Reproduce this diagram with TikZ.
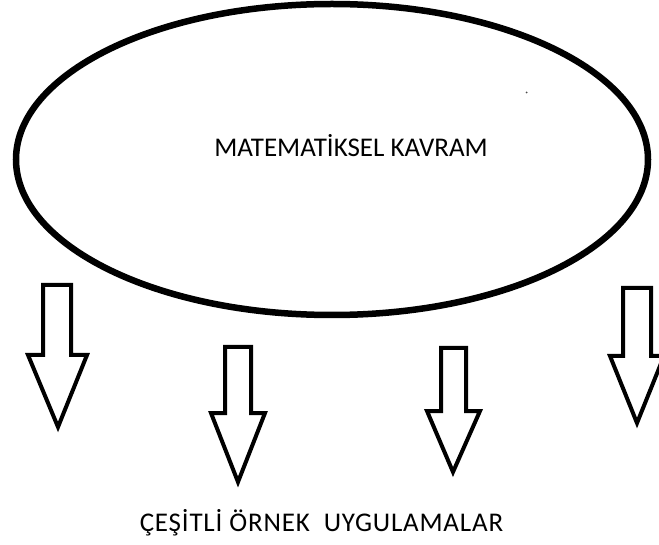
\documentclass[tikz,border=0pt]{standalone}
\usepackage{fontspec}
\setmainfont{Carlito}
\begin{document}
\begin{tikzpicture}[x=1pt,y=-1pt,
  outline/.style={draw=black,line width=6.5pt},
  blockarrow/.style={draw=black,line width=4pt,line join=miter,fill=white},
  label/.style={font=\fontsize{27}{31}\selectfont,text=black,inner sep=0pt}]
\useasboundingbox (0,0) rectangle (659,545);
\fill[white] (0,0) rectangle (659,545);
% concept ellipse
\draw[outline] (332,159.5) ellipse [x radius=316, y radius=155.5];
\node[label] (concept) at (351,146) {MATEMATİKSEL KAVRAM};
% block arrows
\draw[blockarrow] (43,285) -- (71,285) -- (71,355) -- (87,355) -- (58,427) -- (28,355) -- (43,355) -- cycle;
\draw[blockarrow] (225,347) -- (251,347) -- (251,413) -- (265,413) -- (238,482) -- (211,413) -- (225,413) -- cycle;
\draw[blockarrow] (441,348) -- (466,348) -- (466,411) -- (480,411) -- (453,472) -- (427,411) -- (441,411) -- cycle;
\draw[blockarrow] (623,288) -- (651,288) -- (651,356) -- (664,356) -- (637,423) -- (610,356) -- (623,356) -- cycle;
\node[label] (examples) at (321.5,523) {\addfontfeatures{LetterSpace=3}ÇEŞİTLİ ÖRNEK\hspace{14pt}UYGULAMALAR};
\fill[black!70] (526.5,92.5) circle (1pt);
\end{tikzpicture}
\end{document}
